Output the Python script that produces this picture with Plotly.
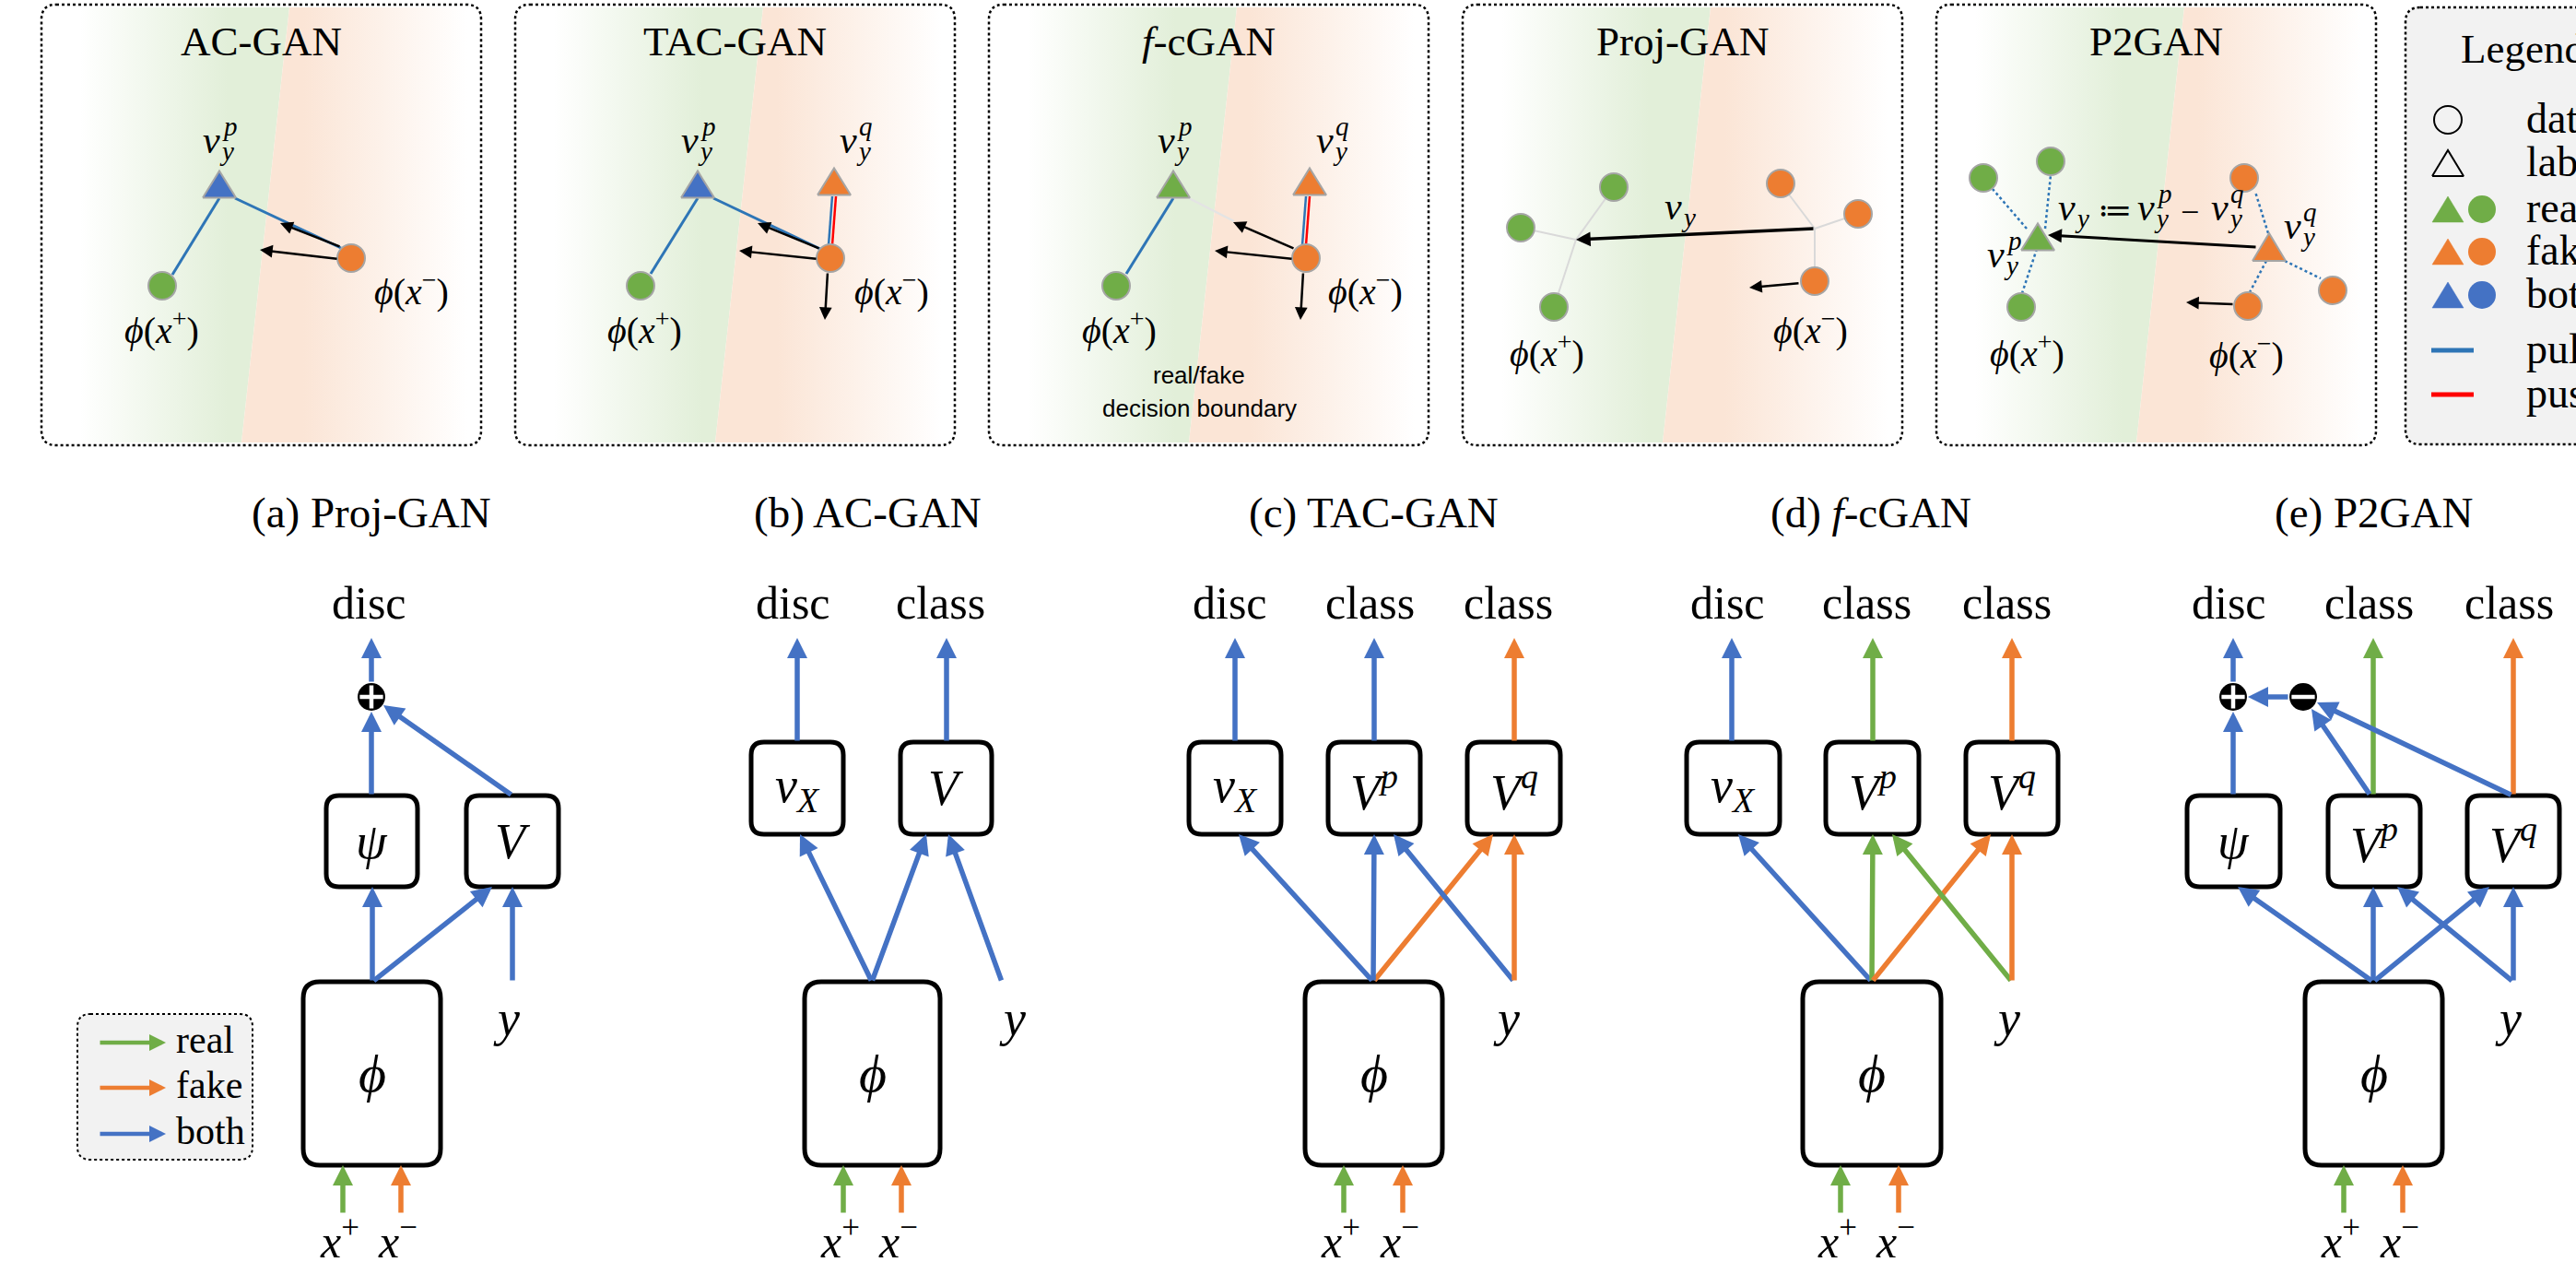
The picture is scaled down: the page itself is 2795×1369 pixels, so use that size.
import plotly.graph_objects as go

W, H = 2795, 1369

# palette
BLUE = '#4472C4'
GREEN = '#70AD47'
ORANGE = '#ED7D31'
PULL = '#2E75B6'
PUSH = '#FF0000'
GREEN_BG = '#E2EFD9'
ORANGE_BG = '#FBE5D6'
EDGE = '#A5A5A5'
GREY_LINE = '#D9D9D9'
PANEL_FILL = '#F2F2F2'

SERIF = 'Liberation Serif, DejaVu Serif, serif'
SANS = 'Liberation Sans, DejaVu Sans, sans-serif'

# ---- text content ----
panel_titles = ['AC-GAN', 'TAC-GAN', '<i>f</i>-cGAN', 'Proj-GAN', 'P2GAN']
arch_titles = ['(a) Proj-GAN', '(b) AC-GAN', '(c) TAC-GAN', '(d) <i>f</i>-cGAN', '(e) P2GAN']
legend_title = 'Legend'
legend_labels = ['data', 'label', 'real', 'fake', 'both', 'pull', 'push']
flow_labels = ['real', 'fake', 'both']
flow_colors = [GREEN, ORANGE, BLUE]
boundary_caption = ['real/fake', 'decision boundary']
PHI_P = '<i>ϕ</i>(<i>x</i><sup>+</sup>)'
PHI_M = '<i>ϕ</i>(<i>x</i><sup>−</sup>)'

shapes, annots, traces = [], [], []


def rrect(x0, y0, x1, y1, r):
    return (f"M{x0+r},{y0} L{x1-r},{y0} Q{x1},{y0} {x1},{y0+r} "
            f"L{x1},{y1-r} Q{x1},{y1} {x1-r},{y1} L{x0+r},{y1} "
            f"Q{x0},{y1} {x0},{y1-r} L{x0},{y0+r} Q{x0},{y0} {x0+r},{y0} Z")


def add_box(x0, y0, x1, y1, r=14, lw=5, dash='solid', fill='rgba(0,0,0,0)',
            color='black', layer='above'):
    shapes.append(dict(type='path', path=rrect(x0, y0, x1, y1, r), xref='x', yref='y',
                       line=dict(color=color, width=lw, dash=dash),
                       fillcolor=fill, layer=layer))


def add_text(x, y, text, size, family=SERIF, color='black', xanchor='center'):
    annots.append(dict(x=x, y=y, text=text, showarrow=False, xref='x', yref='y',
                       font=dict(size=size, family=family, color=color),
                       xanchor=xanchor, yanchor='middle'))


def add_arrow(x0, y0, x1, y1, color='black', width=2.5, size=1.1, head=2):
    annots.append(dict(x=x1, y=y1, ax=x0, ay=y0, xref='x', yref='y', axref='x', ayref='y',
                       text='', showarrow=True, arrowhead=head, arrowsize=size,
                       arrowwidth=width, arrowcolor=color, standoff=0, startstandoff=0))


def add_line(x0, y0, x1, y1, color, width=3, dash='solid'):
    traces.append(go.Scatter(x=[x0, x1], y=[y0, y1], mode='lines',
                             line=dict(color=color, width=width, dash=dash),
                             hoverinfo='skip', showlegend=False))


def add_dot(cx, cy, color, d=30, edge=EDGE, ew=2):
    traces.append(go.Scatter(x=[cx], y=[cy], mode='markers',
                             marker=dict(size=d, color=color, line=dict(color=edge, width=ew)),
                             hoverinfo='skip', showlegend=False))


def add_tri(cx, cy, color, w=36, h=29, edge=EDGE, ew=2):
    xs = [cx - w / 2, cx + w / 2, cx, cx - w / 2]
    ys = [cy + h / 2, cy + h / 2, cy - h / 2, cy + h / 2]
    traces.append(go.Scatter(x=xs, y=ys, mode='lines', fill='toself', fillcolor=color,
                             line=dict(color=edge, width=ew),
                             hoverinfo='skip', showlegend=False))


def vlabel(cx, cy, sub='y', sup=None, size=42):
    add_text(cx, cy, '<i>v</i>', size)
    s = round(size * 0.68)
    add_text(cx + 7, cy + 12, f'<i>{sub}</i>', s, xanchor='left')
    if sup:
        add_text(cx + 10, cy - 15, f'<i>{sup}</i>', s, xanchor='left')


# ================= top row: feature-space panels =================
PANEL_LEFT = [45, 559, 1073, 1587, 2101]
PANEL_W = 477
PT, PB = 5, 483

for i, L in enumerate(PANEL_LEFT):
    R = L + PANEL_W
    bt, bb = L + 269, L + 217          # slanted real/fake boundary
    traces.append(go.Scatter(
        x=[L + 3, bt, bb, L + 3, L + 3], y=[PT + 3, PT + 3, PB - 3, PB - 3, PT + 3],
        mode='lines', line=dict(width=0), fill='toself',
        fillgradient=dict(type='horizontal', colorscale=[[0, '#FFFFFF'], [1, GREEN_BG]],
                          start=L + 42, stop=bb - 15),
        hoverinfo='skip', showlegend=False))
    traces.append(go.Scatter(
        x=[bt, R - 3, R - 3, bb, bt], y=[PT + 3, PT + 3, PB - 3, PB - 3, PT + 3],
        mode='lines', line=dict(width=0), fill='toself',
        fillgradient=dict(type='horizontal', colorscale=[[0, ORANGE_BG], [1, '#FFFFFF']],
                          start=bt + 15, stop=R - 15),
        hoverinfo='skip', showlegend=False))
    add_box(L, PT, R, PB, r=16, lw=2.5, dash='dot')
    add_text(L + PANEL_W / 2, 45, panel_titles[i], 45)

# legend panel (top right)
LG = 2610
add_box(LG, 8, 2840, 482, r=16, lw=2.5, dash='dot', fill=PANEL_FILL, layer='below')
add_text(2668, 53, legend_title, 45, xanchor='left')
leg_y = [130, 177, 227, 273, 320, 380, 428]
add_dot(2656, leg_y[0], 'rgba(0,0,0,0)', d=30, edge='black', ew=2)
add_tri(2656, leg_y[1], 'rgba(0,0,0,0)', w=34, h=28, edge='black', ew=2)
for k, col in zip([2, 3, 4], [GREEN, ORANGE, BLUE]):
    add_tri(2656, leg_y[k], col, w=34, h=28, edge=col, ew=0.5)
    add_dot(2693, leg_y[k], col, d=30, edge=col, ew=0)
add_line(2638, leg_y[5], 2684, leg_y[5], PULL, width=5)
add_line(2638, leg_y[6], 2684, leg_y[6], PUSH, width=5)
for lab, yy in zip(legend_labels, leg_y):
    add_text(2739, yy - 2, lab, 46, xanchor='left')

# --- panel 1: AC-GAN ---
add_line(238, 215, 187, 298, PULL)
add_line(255, 215, 370, 269, PULL)
add_tri(238, 200, BLUE)
add_dot(176, 310, GREEN)
add_dot(381, 280, ORANGE)
add_arrow(370, 268, 304, 242)
add_arrow(367, 281, 282, 271)
vlabel(229, 152, 'y', 'p')
add_text(446, 313, PHI_M, 40)
add_text(175, 355, PHI_P, 40)

# --- panel 2: TAC-GAN ---
add_line(757, 215, 706, 297, PULL)
add_line(774, 215, 890, 270, PULL)
add_line(899, 266, 903, 213, PULL, width=2.5)
add_line(903, 266, 907, 213, PUSH, width=2.5)
add_tri(757, 200, BLUE)
add_tri(905, 197, ORANGE)
add_dot(695, 310, GREEN)
add_dot(901, 280, ORANGE)
add_arrow(890, 270, 822, 242)
add_arrow(887, 281, 802, 272)
add_arrow(898, 295, 895, 347)
vlabel(748, 152, 'y', 'p')
vlabel(920, 152, 'y', 'q')
add_text(967, 313, PHI_M, 40)
add_text(699, 355, PHI_P, 40)

# --- panel 3: f-cGAN ---
add_line(1273, 215, 1222, 297, PULL)
add_line(1290, 215, 1339, 240, '#E4E4E4', width=2.5)
add_line(1413, 266, 1417, 213, PULL, width=2.5)
add_line(1417, 266, 1421, 213, PUSH, width=2.5)
add_tri(1273, 200, GREEN)
add_tri(1421, 197, ORANGE)
add_dot(1211, 310, GREEN)
add_dot(1417, 280, ORANGE)
add_arrow(1405, 270, 1338, 241)
add_arrow(1403, 281, 1318, 272)
add_arrow(1414, 295, 1411, 347)
vlabel(1265, 152, 'y', 'p')
vlabel(1437, 152, 'y', 'q')
add_text(1481, 313, PHI_M, 40)
add_text(1214, 355, PHI_P, 40)
add_text(1301, 407, boundary_caption[0], 26, family=SANS)
add_text(1301, 443, boundary_caption[1], 26, family=SANS)

# --- panel 4: Proj-GAN ---
g_center, o_center = (1710, 260), (1969, 248)
g_pts = [(1751, 203), (1650, 247), (1686, 333)]
o_pts = [(1932, 199), (2016, 232), (1969, 305)]
for px, py in g_pts:
    add_line(g_center[0], g_center[1], px, py, GREY_LINE, width=2)
for px, py in o_pts:
    add_line(o_center[0], o_center[1], px, py, GREY_LINE, width=2)
for px, py in g_pts:
    add_dot(px, py, GREEN)
for px, py in o_pts:
    add_dot(px, py, ORANGE)
add_arrow(o_center[0], o_center[1], g_center[0], g_center[1], width=3.5, size=0.9)
add_arrow(1953, 307, 1898, 312)
vlabel(1815, 224, 'y')
add_text(1964, 355, PHI_M, 40)
add_text(1678, 380, PHI_P, 40)

# --- panel 5: P2GAN ---
g_tri, o_tri = (2211, 257), (2462, 268)
g_pts5 = [(2152, 193), (2225, 175), (2193, 333)]
o_pts5 = [(2435, 193), (2531, 315), (2439, 332)]
for (x0, y0, x1, y1) in [(2199, 248, 2162, 205), (2219, 248, 2225, 190), (2210, 270, 2194, 318)]:
    add_line(x0, y0, x1, y1, PULL, width=2.5, dash='dot')
for (x0, y0, x1, y1) in [(2461, 253, 2447, 208), (2479, 283, 2518, 302), (2459, 283, 2441, 317)]:
    add_line(x0, y0, x1, y1, PULL, width=2.5, dash='dot')
for px, py in g_pts5:
    add_dot(px, py, GREEN)
for px, py in o_pts5:
    add_dot(px, py, ORANGE)
add_tri(g_tri[0], g_tri[1], GREEN, w=36, h=29)
add_tri(o_tri[0], o_tri[1], ORANGE, w=36, h=30)
add_arrow(2449, 268, 2222, 255, width=3, size=1.0)
add_arrow(2424, 330, 2372, 328)
vlabel(2165, 276, 'y', 'p')
vlabel(2487, 245, 'y', 'q')
# v_y := v_y^p - v_y^q
vlabel(2242, 225, 'y')
add_text(2294, 228, '≔', 36)
vlabel(2328, 225, 'y', 'p')
add_text(2376, 230, '−', 36)
vlabel(2408, 225, 'y', 'q')
add_text(2199, 380, PHI_P, 40)
add_text(2437, 382, PHI_M, 40)

# ================= bottom row: architectures =================
T_TXT, TIP = 654, 692                 # output label / output arrow tip
UB0, UB1 = 805, 905                   # heads without fusion node
LB0, LB1 = 863, 962                   # heads with fusion node
PH0, PH1 = 1065, 1264                 # feature extractor
IN_TAIL, X_LBL, Y_LBL = 1317, 1343, 1105
AW, AS = 5.5, 0.8                     # arrow width / head size
TXT, MATH = 50, 54


def head_box(x0, x1, y0, y1, label):
    add_box(x0, y0, x1, y1, r=14, lw=5)
    add_text((x0 + x1) / 2, (y0 + y1) / 2, label, MATH)


def phi_block(x0, x1, xin_p, xin_m):
    add_box(x0, PH0, x1, PH1, r=18, lw=5)
    add_text((x0 + x1) / 2, (PH0 + PH1) / 2, '<i>ϕ</i>', MATH + 4)
    add_arrow(xin_p, IN_TAIL, xin_p, PH1, GREEN, AW, AS)
    add_arrow(xin_m, IN_TAIL, xin_m, PH1, ORANGE, AW, AS)
    add_text(xin_p - 4, X_LBL, '<i>x</i><sup>+</sup>', TXT)
    add_text(xin_m - 4, X_LBL, '<i>x</i><sup>−</sup>', TXT)


def opnode(cx, cy, kind):
    traces.append(go.Scatter(x=[cx], y=[cy], mode='markers',
                             marker=dict(size=30, color='black', line=dict(width=0)),
                             hoverinfo='skip', showlegend=False))
    sym = 'cross-thin' if kind == '+' else 'line-ew'
    traces.append(go.Scatter(x=[cx], y=[cy], mode='markers',
                             marker=dict(size=18, symbol=sym, color='white',
                                         line=dict(color='white', width=4.5)),
                             hoverinfo='skip', showlegend=False))


title_x = [403, 941, 1490, 2030, 2575]
for t, x in zip(arch_titles, title_x):
    add_text(x, 556, t, 47)

# (a) Proj-GAN
add_text(400, T_TXT, 'disc', TXT)
head_box(354, 453, LB0, LB1, '<i>ψ</i>')
head_box(506, 606, LB0, LB1, '<i>V</i>')
opnode(403, 756, '+')
add_arrow(403, 741, 403, TIP, BLUE, AW, AS)
add_arrow(403, LB0, 403, 772, BLUE, AW, AS)
add_arrow(556, LB0, 416, 765, BLUE, AW, AS)
add_arrow(404, PH0, 404, LB1, BLUE, AW, AS)
add_arrow(404, PH0, 534, LB1, BLUE, AW, AS)
add_arrow(556, PH0, 556, LB1, BLUE, AW, AS)
add_text(549, Y_LBL, '<i>y</i>', MATH)
phi_block(329, 478, 372, 435)

# flow-colour key
add_box(84, 1100, 274, 1258, r=14, lw=2, dash='dot', fill=PANEL_FILL, layer='below')
for lab, col, yy in zip(flow_labels, flow_colors, [1131, 1180, 1230]):
    add_arrow(107, yy, 180, yy, col, 4.5, 0.8)
    add_text(189, yy - 3, lab, 42, xanchor='left')

# (b) AC-GAN
add_text(860, T_TXT, 'disc', TXT)
add_text(1020, T_TXT, 'class', TXT)
head_box(815, 915, UB0, UB1, '<i>v</i><sub><i>X</i></sub>')
head_box(977, 1076, UB0, UB1, '<i>V</i>')
add_arrow(865, UB0, 865, TIP, BLUE, AW, AS)
add_arrow(1027, UB0, 1027, TIP, BLUE, AW, AS)
add_arrow(946, PH0, 868, UB1, BLUE, AW, AS)
add_arrow(946, PH0, 1005, UB1, BLUE, AW, AS)
add_arrow(1087, PH0, 1029, UB1, BLUE, AW, AS)
add_text(1098, Y_LBL, '<i>y</i>', MATH)
phi_block(873, 1020, 915, 978)

# (c) TAC-GAN
add_text(1334, T_TXT, 'disc', TXT)
add_text(1486, T_TXT, 'class', TXT)
add_text(1636, T_TXT, 'class', TXT)
head_box(1290, 1390, UB0, UB1, '<i>v</i><sub><i>X</i></sub>')
head_box(1441, 1541, UB0, UB1, '<i>V</i><sup><i>p</i></sup>')
head_box(1592, 1693, UB0, UB1, '<i>V</i><sup><i>q</i></sup>')
add_arrow(1340, UB0, 1340, TIP, BLUE, AW, AS)
add_arrow(1491, UB0, 1491, TIP, BLUE, AW, AS)
add_arrow(1643, UB0, 1643, TIP, ORANGE, AW, AS)
add_arrow(1490, PH0, 1620, UB1, ORANGE, AW, AS)
add_arrow(1490, PH0, 1344, UB1, BLUE, AW, AS)
add_arrow(1490, PH0, 1491, UB1, BLUE, AW, AS)
add_arrow(1643, PH0, 1512, UB1, BLUE, AW, AS)
add_arrow(1643, PH0, 1643, UB1, ORANGE, AW, AS)
add_text(1634, Y_LBL, '<i>y</i>', MATH)
phi_block(1416, 1565, 1458, 1522)

# (d) f-cGAN
add_text(1874, T_TXT, 'disc', TXT)
add_text(2025, T_TXT, 'class', TXT)
add_text(2177, T_TXT, 'class', TXT)
head_box(1830, 1931, UB0, UB1, '<i>v</i><sub><i>X</i></sub>')
head_box(1981, 2082, UB0, UB1, '<i>V</i><sup><i>p</i></sup>')
head_box(2133, 2233, UB0, UB1, '<i>V</i><sup><i>q</i></sup>')
add_arrow(1879, UB0, 1879, TIP, BLUE, AW, AS)
add_arrow(2032, UB0, 2032, TIP, GREEN, AW, AS)
add_arrow(2183, UB0, 2183, TIP, ORANGE, AW, AS)
add_arrow(2031, PH0, 1886, UB1, BLUE, AW, AS)
add_arrow(2031, PH0, 2032, UB1, GREEN, AW, AS)
add_arrow(2031, PH0, 2160, UB1, ORANGE, AW, AS)
add_arrow(2183, PH0, 2053, UB1, GREEN, AW, AS)
add_arrow(2183, PH0, 2183, UB1, ORANGE, AW, AS)
add_text(2177, Y_LBL, '<i>y</i>', MATH)
phi_block(1956, 2106, 1997, 2060)

# (e) P2GAN
add_text(2418, T_TXT, 'disc', TXT)
add_text(2570, T_TXT, 'class', TXT)
add_text(2722, T_TXT, 'class', TXT)
head_box(2373, 2474, LB0, LB1, '<i>ψ</i>')
head_box(2526, 2626, LB0, LB1, '<i>V</i><sup><i>p</i></sup>')
head_box(2677, 2777, LB0, LB1, '<i>V</i><sup><i>q</i></sup>')
opnode(2423, 756, '+')
opnode(2499, 756, '-')
add_arrow(2423, 741, 2423, TIP, BLUE, AW, AS)
add_arrow(2575, LB0, 2575, TIP, GREEN, AW, AS)
add_arrow(2727, LB0, 2727, TIP, ORANGE, AW, AS)
add_arrow(2423, LB0, 2423, 772, BLUE, AW, AS)
add_arrow(2484, 756, 2439, 756, BLUE, AW, AS)
add_arrow(2572, LB0, 2508, 769, BLUE, AW, AS)
add_arrow(2726, LB0, 2514, 762, BLUE, AW, AS)
add_arrow(2575, PH0, 2428, LB1, BLUE, AW, AS)
add_arrow(2575, PH0, 2575, LB1, BLUE, AW, AS)
add_arrow(2575, PH0, 2701, LB1, BLUE, AW, AS)
add_arrow(2727, PH0, 2601, LB1, BLUE, AW, AS)
add_arrow(2727, PH0, 2727, LB1, BLUE, AW, AS)
add_text(2721, Y_LBL, '<i>y</i>', MATH)
phi_block(2501, 2650, 2543, 2607)

fig = go.Figure(data=traces)
fig.update_layout(
    width=W, height=H, autosize=False,
    margin=dict(l=0, r=0, t=0, b=0, pad=0),
    paper_bgcolor='white', plot_bgcolor='white',
    xaxis=dict(range=[0, W], visible=False, fixedrange=True),
    yaxis=dict(range=[H, 0], visible=False, fixedrange=True),
    shapes=shapes, annotations=annots, showlegend=False,
)
fig.write_html("out.html")
